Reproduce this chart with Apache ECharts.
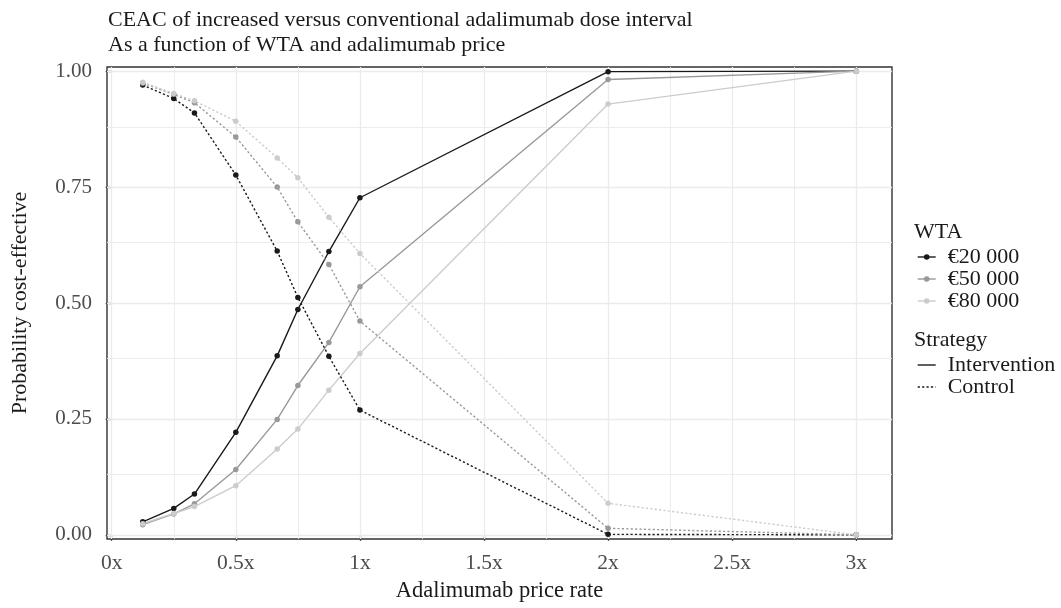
<!DOCTYPE html>
<html>
<head>
<meta charset="utf-8">
<script src="https://cdn.jsdelivr.net/npm/echarts@6/dist/echarts.min.js"></script>
<style>html,body{margin:0;padding:0;background:#fff}#c{width:1061px;height:608px}</style>
</head>
<body>
<div id="c"></div>
<script>
// ---- data ----
const priceRates = [0.125, 0.25, 0.3333, 0.5, 0.6667, 0.75, 0.875, 1, 2, 3];
const wtaNames = ['€20 000', '€50 000', '€80 000'];
const intervention20 = [0.028, 0.057, 0.088, 0.221, 0.386, 0.486, 0.611, 0.727, 0.999, 1.0];
const intervention50 = [0.022, 0.045, 0.067, 0.141, 0.249, 0.322, 0.415, 0.535, 0.982, 1.0];
const intervention80 = [0.024, 0.046, 0.061, 0.106, 0.185, 0.228, 0.312, 0.391, 0.929, 1.0];
const control20 = [0.970, 0.941, 0.910, 0.776, 0.612, 0.512, 0.385, 0.269, 0.001, 0.0];
const control50 = [0.974, 0.950, 0.932, 0.858, 0.750, 0.675, 0.583, 0.461, 0.014, 0.0];
const control80 = [0.976, 0.952, 0.936, 0.892, 0.813, 0.770, 0.685, 0.607, 0.068, 0.0];
const xTickValues = [0, 0.5, 1, 1.5, 2, 2.5, 3];
const xTickLabels = ['0x', '0.5x', '1x', '1.5x', '2x', '2.5x', '3x'];
const xMinorValues = [0.25, 0.75, 1.25, 1.75, 2.25, 2.75];
const yTickValues = [0, 0.25, 0.5, 0.75, 1];
const yTickLabels = ['0.00', '0.25', '0.50', '0.75', '1.00'];
const yMinorValues = [0.125, 0.375, 0.625, 0.875];
const strategyNames = ['Intervention', 'Control'];

// ---- styling ----
const FONT = '"Liberation Serif", "DejaVu Serif", serif';
const colors = ['#1a1a1a', '#999999', '#cccccc'];
const dotted = [2.2, 2.2];

function pts(arr) { return priceRates.map((x, i) => [x, arr[i]]); }

const gridLines = [];
xTickValues.forEach(v => gridLines.push({ xAxis: v, lineStyle: { width: 1.3 } }));
xMinorValues.forEach(v => gridLines.push({ xAxis: v, lineStyle: { width: 0.9 } }));
yTickValues.forEach(v => gridLines.push({ yAxis: v, lineStyle: { width: 1.3 } }));
yMinorValues.forEach(v => gridLines.push({ yAxis: v, lineStyle: { width: 0.9 } }));

const interventions = [intervention20, intervention50, intervention80];
const controls = [control20, control50, control80];

const series = [{
  type: 'line', data: [], z: 1, silent: true, legendHoverLink: false,
  markLine: {
    silent: true, symbol: 'none', z: 1, animation: false,
    label: { show: false },
    lineStyle: { color: '#ebebeb', type: 'solid', width: 1.3 },
    data: gridLines
  }
}];
interventions.forEach((arr, i) => series.push({
  name: wtaNames[i], type: 'line', data: pts(arr), z: 3,
  symbol: 'circle', symbolSize: 5.5, showSymbol: true,
  itemStyle: { color: colors[i] },
  lineStyle: { color: colors[i], width: 1.4, type: 'solid' }
}));
controls.forEach((arr, i) => series.push({
  name: wtaNames[i], type: 'line', data: pts(arr), z: 3,
  symbol: 'circle', symbolSize: 5.5, showSymbol: true,
  itemStyle: { color: colors[i] },
  lineStyle: { color: colors[i], width: 1.4, type: dotted }
}));
series.push({ name: strategyNames[0], type: 'line', data: [], symbol: 'none',
  itemStyle: { color: '#1a1a1a' }, lineStyle: { color: '#1a1a1a', width: 1.4, type: 'solid' } });
series.push({ name: strategyNames[1], type: 'line', data: [], symbol: 'none',
  itemStyle: { color: '#1a1a1a' }, lineStyle: { color: '#1a1a1a', width: 1.4, type: dotted } });

const legendText = { fontFamily: FONT, fontSize: 22, color: '#1a1a1a', lineHeight: 21, padding: [0, 0, 0, 7] };

const option = {
  animation: false,
  backgroundColor: '#ffffff',
  textStyle: { fontFamily: FONT },
  title: [
    { text: 'CEAC of increased versus conventional adalimumab dose interval\nAs a function of WTA and adalimumab price',
      left: 103, top: 3,
      textStyle: { fontFamily: FONT, fontSize: 22, fontWeight: 'normal', color: '#1a1a1a', lineHeight: 25 } },
    { text: 'WTA', left: 909, top: 216,
      textStyle: { fontFamily: FONT, fontSize: 22, fontWeight: 'normal', color: '#1a1a1a' } },
    { text: 'Strategy', left: 909, top: 324,
      textStyle: { fontFamily: FONT, fontSize: 22, fontWeight: 'normal', color: '#1a1a1a' } }
  ],
  grid: { left: 107, right: 169, top: 67, bottom: 69, show: true, borderColor: '#333333', borderWidth: 1.4, backgroundColor: '#ffffff' },
  xAxis: {
    type: 'value', min: -0.019, max: 3.144,
    name: 'Adalimumab price rate', nameLocation: 'middle', nameGap: 41,
    nameTextStyle: { fontFamily: FONT, fontSize: 22.5, color: '#1a1a1a' },
    axisLine: { show: false },
    axisTick: { show: true, customValues: xTickValues, length: 6, lineStyle: { color: '#333333', width: 1.3 } },
    axisLabel: { show: true, customValues: xTickValues, margin: 13, fontFamily: FONT, fontSize: 21.5, color: '#4d4d4d',
      formatter: v => { const k = xTickValues.indexOf(v); return k >= 0 ? xTickLabels[k] : ''; } },
    splitLine: { show: false }
  },
  yAxis: {
    type: 'value', min: -0.009, max: 1.009,
    name: 'Probability cost-effective', nameLocation: 'middle', nameGap: 76,
    nameTextStyle: { fontFamily: FONT, fontSize: 22, color: '#1a1a1a' },
    axisLine: { show: false },
    axisTick: { show: true, customValues: yTickValues, length: 6, lineStyle: { color: '#333333', width: 1.3 } },
    axisLabel: { show: true, customValues: yTickValues, margin: 15, fontFamily: FONT, fontSize: 21, color: '#4d4d4d',
      formatter: v => { const k = yTickValues.indexOf(v); return k >= 0 ? yTickLabels[k] : ''; } },
    splitLine: { show: false }
  },
  legend: [
    { data: wtaNames, orient: 'vertical', left: 912, top: 241, itemWidth: 18, itemHeight: 7, itemGap: 0,
      selectedMode: false, textStyle: legendText, lineStyle: { width: 1.4 } },
    { data: strategyNames.map(n => ({ name: n, itemStyle: { opacity: 0 } })),
      orient: 'vertical', left: 912, top: 349, itemWidth: 18, itemHeight: 7, itemGap: 0,
      selectedMode: false, textStyle: legendText, lineStyle: { width: 1.4 } }
  ],
  series: series
};

const chart = echarts.init(document.getElementById('c'), null, { renderer: 'canvas' });
chart.setOption(option);
</script>
</body>
</html>
